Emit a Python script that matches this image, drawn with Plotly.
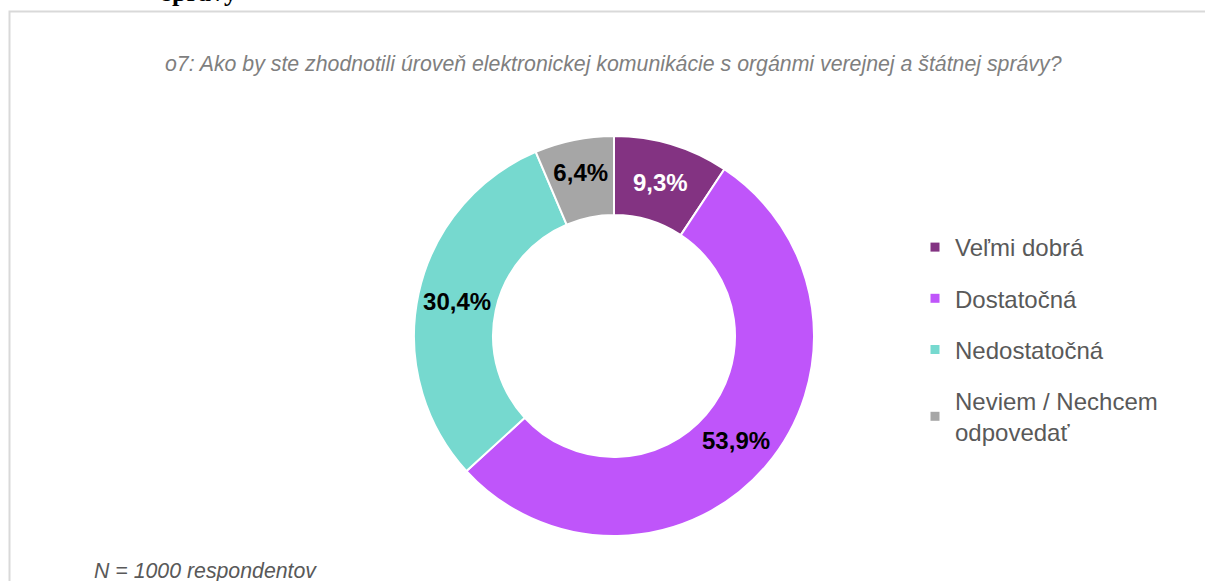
import plotly.graph_objects as go

W, H = 1205, 581

labels = ["Veľmi dobrá", "Dostatočná", "Nedostatočná", "Neviem / Nechcem<br>odpovedať"]
values = [9.3, 53.9, 30.4, 6.4]
colors = ["#833382", "#BF55FA", "#76D9CF", "#A6A6A6"]
label_colors = ["white", "black", "black", "black"]

title = "o7: Ako by ste zhodnotili úroveň elektronickej komunikácie s orgánmi verejnej a štátnej správy?"
note = "N = 1000 respondentov"

txt = [f"{v:.1f}".replace(".", ",") + "%" for v in values]

fig = go.Figure()

# donut
fig.add_trace(go.Pie(
    labels=labels, values=values, text=txt, textinfo="text",
    sort=False, direction="clockwise", rotation=0, hole=0.605,
    marker=dict(colors=colors, line=dict(color="white", width=2)),
    textposition="inside", insidetextorientation="horizontal",
    textfont=dict(family="Liberation Sans", size=24, color=label_colors, weight="bold"),
    domain=dict(x=[414 / W, 814 / W], y=[45 / H, 445 / H]),
    showlegend=False, hoverinfo="label+text",
))

# legend entries (square markers, spaced like the original)
for i, (lab, c) in enumerate(zip(labels, colors)):
    fig.add_trace(go.Scatter(
        x=[None], y=[None], mode="markers", name=lab,
        marker=dict(symbol="square", size=9, color=c),
        legendgroup=f"g{i}", showlegend=True,
    ))

fig.update_xaxes(visible=False)
fig.update_yaxes(visible=False)

# frame
fig.add_shape(type="rect", xref="paper", yref="paper",
              x0=9.5 / W, x1=1.05, y0=-0.05, y1=1 - 11.5 / H,
              line=dict(color="#D9D9D9", width=2), fillcolor="rgba(0,0,0,0)", layer="below")

fig.add_annotation(text="<b>správy</b>", xref="paper", yref="paper",
                   x=160 / W, y=1 - 9 / H, xanchor="left", yanchor="bottom",
                   showarrow=False, font=dict(family="Liberation Serif", size=26, color="black"))
fig.add_annotation(text=f"<i>{title}</i>", xref="paper", yref="paper",
                   x=613 / W, y=1 - 64 / H, xanchor="center", yanchor="middle",
                   showarrow=False, font=dict(family="Liberation Sans", size=21.3, color="#7F7F7F"))
fig.add_annotation(text=f"<i>{note}</i>", xref="paper", yref="paper",
                   x=92 / W, y=1 - 571 / H, xanchor="left", yanchor="middle",
                   showarrow=False, font=dict(family="Liberation Sans", size=21.3, color="#595959"))

fig.update_layout(
    width=W, height=H,
    margin=dict(l=0, r=0, t=0, b=0),
    paper_bgcolor="white", plot_bgcolor="white",
    legend=dict(x=915 / W, y=1 - 225 / H, xanchor="left", yanchor="top",
                font=dict(family="Liberation Sans", size=24, color="#595959"),
                tracegroupgap=17, bgcolor="rgba(0,0,0,0)"),
)

fig.write_html("out.html", config={"displayModeBar": False},
               post_script="document.body.style.margin='0';")
